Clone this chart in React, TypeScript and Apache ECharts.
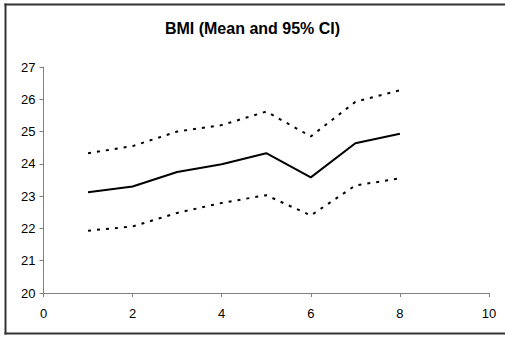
import React, { useEffect, useRef } from "react";
import * as echarts from "echarts";

const xValues = [1, 2, 3, 4, 5, 6, 7, 8];
const meanValues = [23.12, 23.3, 23.75, 23.99, 24.33, 23.58, 24.64, 24.93];
const upperValues = [24.33, 24.55, 25.0, 25.2, 25.62, 24.85, 25.92, 26.28];
const lowerValues = [21.93, 22.06, 22.48, 22.79, 23.03, 22.4, 23.33, 23.55];

const pairs = (ys: number[]) => xValues.map((x, i) => [x, ys[i]]);

export default function App() {
  const ref = useRef<HTMLDivElement>(null);
  useEffect(() => {
    if (!ref.current) return;
    const chart = echarts.init(ref.current, undefined, { renderer: "svg" });
    const font = "'Liberation Sans', Arial, sans-serif";
    chart.setOption({
      animation: false,
      backgroundColor: "#ffffff",
      title: {
        text: "BMI (Mean and 95% CI)",
        left: "center",
        top: 15,
        textStyle: { fontFamily: font, fontSize: 16, fontWeight: "bold", color: "#000" },
      },
      graphic: [
        {
          type: "line",
          shape: { x1: 4.5, y1: 4.5, x2: 505, y2: 4.5 },
          style: { stroke: "#333", lineWidth: 2 },
          silent: true,
        },
        {
          type: "line",
          shape: { x1: 5.5, y1: 3.5, x2: 5.5, y2: 334.5 },
          style: { stroke: "#333", lineWidth: 2 },
          silent: true,
        },
        {
          type: "line",
          shape: { x1: 4.5, y1: 333.5, x2: 505, y2: 333.5 },
          style: { stroke: "#333", lineWidth: 2 },
          silent: true,
        },
      ],
      grid: { left: 43.5, right: 16, top: 67, bottom: 44 },
      xAxis: {
        type: "value",
        min: 0,
        max: 10,
        interval: 2,
        splitLine: { show: false },
        axisLine: { lineStyle: { color: "#808080", width: 1 } },
        axisTick: { show: true, inside: false, length: 4, lineStyle: { color: "#808080" } },
        axisLabel: { color: "#000", fontFamily: font, fontSize: 13, margin: 14 },
      },
      yAxis: {
        type: "value",
        min: 20,
        max: 27,
        interval: 1,
        splitLine: { show: false },
        axisLine: { show: true, lineStyle: { color: "#808080", width: 1 } },
        axisTick: { show: true, inside: false, length: 4, lineStyle: { color: "#808080" } },
        axisLabel: { color: "#000", fontFamily: font, fontSize: 13, margin: 8 },
      },
      series: [
        {
          type: "line",
          data: pairs(upperValues),
          symbol: "none",
          lineStyle: { color: "#000", width: 2, type: [3, 6] },
        },
        {
          type: "line",
          data: pairs(meanValues),
          symbol: "none",
          lineStyle: { color: "#000", width: 2 },
        },
        {
          type: "line",
          data: pairs(lowerValues),
          symbol: "none",
          lineStyle: { color: "#000", width: 2, type: [3, 6] },
        },
      ],
    });
    return () => chart.dispose();
  }, []);
  return (
    <div
      ref={ref}
      style={{ position: "fixed", left: 0, top: 0, width: 505, height: 337, overflow: "hidden" }}
    />
  );
}
